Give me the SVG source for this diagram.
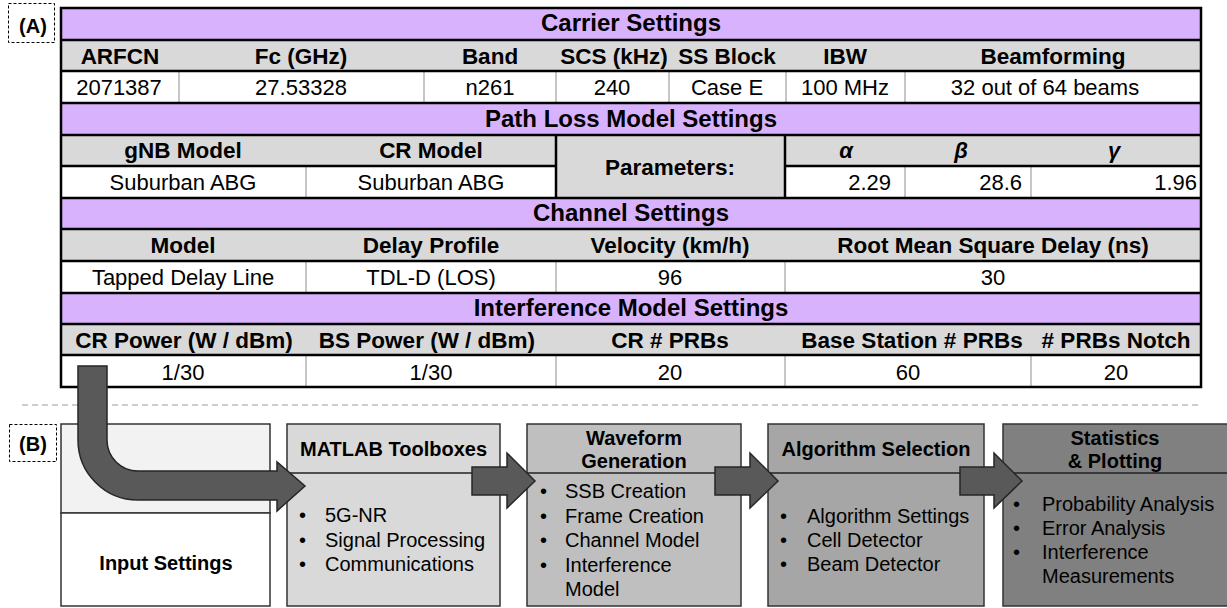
<svg xmlns="http://www.w3.org/2000/svg" width="1227" height="608" viewBox="0 0 1227 608">
  <style>
    text { font-family: "Liberation Sans", Arial, sans-serif; fill: #000; }
    .title { font-size: 24px; font-weight: bold; text-anchor: middle; }
    .hd { font-size: 22.5px; font-weight: bold; text-anchor: middle; }
    .dt { font-size: 22px; text-anchor: middle; }
    .dr { font-size: 22px; text-anchor: end; }
    .gk { font-size: 22px; font-weight: bold; font-style: italic; text-anchor: middle; }
    .purple { fill: #d8b2fd; }
    .gray { fill: #d9d9d9; }
    .white { fill: #ffffff; }
    .rowline { stroke: #000; stroke-width: 2.5; }
    .cellsep { stroke: #c6c6c6; stroke-width: 2; }
    .lbl { font-size: 20px; font-weight: bold; text-anchor: middle; }
    .boxhd { font-size: 20px; font-weight: bold; text-anchor: middle; }
    .body { font-size: 20px; }
    .box { stroke: #333; stroke-width: 1.5; }
    .divider { stroke: #222; stroke-width: 1.5; }
    .arrow { fill: #595959; stroke: #262626; stroke-width: 1.5; stroke-linejoin: miter; }
  </style>

  <!-- Panel labels -->
  <g id="label-a">
    <rect x="8.5" y="3.5" width="46" height="39" fill="none" stroke="#000" stroke-width="1" stroke-dasharray="3 2"/>
    <text class="lbl" x="33" y="33">(A)</text>
  </g>
  <g id="label-b">
    <rect x="9.5" y="424.5" width="47" height="37" fill="none" stroke="#000" stroke-width="1" stroke-dasharray="3 2"/>
    <text class="lbl" x="33" y="451">(B)</text>
  </g>

  <!-- Settings table -->
  <g id="settings-table">
    <!-- row backgrounds -->
    <rect class="purple" x="61" y="8" width="1140" height="32"/>
    <rect class="gray" x="61" y="40" width="1140" height="31"/>
    <rect class="white" x="61" y="71" width="1140" height="32"/>
    <rect class="purple" x="61" y="103" width="1140" height="32"/>
    <rect class="gray" x="61" y="135" width="1140" height="31"/>
    <rect class="white" x="61" y="166" width="1140" height="32"/>
    <rect class="gray" x="556" y="135" width="229" height="63"/>
    <rect class="purple" x="61" y="198" width="1140" height="31"/>
    <rect class="gray" x="61" y="229" width="1140" height="32"/>
    <rect class="white" x="61" y="261" width="1140" height="32"/>
    <rect class="purple" x="61" y="293" width="1140" height="31"/>
    <rect class="gray" x="61" y="324" width="1140" height="31"/>
    <rect class="white" x="61" y="355" width="1140" height="32"/>

    <!-- light cell separators in value rows -->
    <g class="cellsep">
      <line x1="179" y1="71" x2="179" y2="103"/>
      <line x1="424" y1="71" x2="424" y2="103"/>
      <line x1="556" y1="71" x2="556" y2="103"/>
      <line x1="669" y1="71" x2="669" y2="103"/>
      <line x1="786" y1="71" x2="786" y2="103"/>
      <line x1="905" y1="71" x2="905" y2="103"/>
      <line x1="306" y1="166" x2="306" y2="198"/>
      <line x1="905" y1="166" x2="905" y2="198"/>
      <line x1="1031" y1="166" x2="1031" y2="198"/>
      <line x1="306" y1="261" x2="306" y2="293"/>
      <line x1="556" y1="261" x2="556" y2="293"/>
      <line x1="785" y1="261" x2="785" y2="293"/>
      <line x1="306" y1="355" x2="306" y2="387"/>
      <line x1="556" y1="355" x2="556" y2="387"/>
      <line x1="785" y1="355" x2="785" y2="387"/>
      <line x1="1031" y1="355" x2="1031" y2="387"/>
    </g>

    <!-- row borders -->
    <g class="rowline">
      <line x1="61" y1="40" x2="1201" y2="40"/>
      <line x1="61" y1="71" x2="1201" y2="71"/>
      <line x1="61" y1="103" x2="1201" y2="103"/>
      <line x1="61" y1="135" x2="1201" y2="135"/>
      <line x1="61" y1="166" x2="556" y2="166"/>
      <line x1="785" y1="166" x2="1201" y2="166"/>
      <line x1="556" y1="135" x2="556" y2="198"/>
      <line x1="785" y1="135" x2="785" y2="198"/>
      <line x1="61" y1="198" x2="1201" y2="198"/>
      <line x1="61" y1="229" x2="1201" y2="229"/>
      <line x1="61" y1="261" x2="1201" y2="261"/>
      <line x1="61" y1="293" x2="1201" y2="293"/>
      <line x1="61" y1="324" x2="1201" y2="324"/>
      <line x1="61" y1="355" x2="1201" y2="355"/>
    </g>
    <rect x="61" y="8" width="1140" height="379" fill="none" stroke="#000" stroke-width="2.5"/>

    <!-- Carrier settings -->
    <text class="title" x="631" y="31">Carrier Settings</text>
    <text class="hd" x="120" y="64">ARFCN</text>
    <text class="hd" x="301" y="64">Fc (GHz)</text>
    <text class="hd" x="490" y="64">Band</text>
    <text class="hd" x="614" y="64">SCS (kHz)</text>
    <text class="hd" x="727" y="64">SS Block</text>
    <text class="hd" x="845" y="64">IBW</text>
    <text class="hd" x="1053" y="64">Beamforming</text>
    <text class="dt" x="119" y="95">2071387</text>
    <text class="dt" x="301" y="95">27.53328</text>
    <text class="dt" x="490" y="95">n261</text>
    <text class="dt" x="612" y="95">240</text>
    <text class="dt" x="727" y="95">Case E</text>
    <text class="dt" x="845" y="95">100 MHz</text>
    <text class="dt" x="1045" y="95">32 out of 64 beams</text>

    <!-- Path loss model settings -->
    <text class="title" x="631" y="127">Path Loss Model Settings</text>
    <text class="hd" x="183" y="158">gNB Model</text>
    <text class="hd" x="431" y="158">CR Model</text>
    <text class="hd" x="670" y="175">Parameters:</text>
    <text class="gk" x="846" y="158">α</text>
    <text class="gk" x="961" y="158">β</text>
    <text class="gk" x="1114" y="158">γ</text>
    <text class="dt" x="183" y="190">Suburban ABG</text>
    <text class="dt" x="431" y="190">Suburban ABG</text>
    <text class="dr" x="891" y="190">2.29</text>
    <text class="dr" x="1022" y="190">28.6</text>
    <text class="dr" x="1197" y="190">1.96</text>

    <!-- Channel settings -->
    <text class="title" x="631" y="221">Channel Settings</text>
    <text class="hd" x="183" y="253">Model</text>
    <text class="hd" x="431" y="253">Delay Profile</text>
    <text class="hd" x="670" y="253">Velocity (km/h)</text>
    <text class="hd" x="993" y="253">Root Mean Square Delay (ns)</text>
    <text class="dt" x="183" y="285">Tapped Delay Line</text>
    <text class="dt" x="431" y="285">TDL-D (LOS)</text>
    <text class="dt" x="670" y="285">96</text>
    <text class="dt" x="993" y="285">30</text>

    <!-- Interference model settings -->
    <text class="title" x="631" y="316">Interference Model Settings</text>
    <text class="hd" x="184" y="348">CR Power (W / dBm)</text>
    <text class="hd" x="427" y="348">BS Power (W / dBm)</text>
    <text class="hd" x="670" y="348">CR # PRBs</text>
    <text class="hd" x="912" y="348">Base Station # PRBs</text>
    <text class="hd" x="1116" y="348"># PRBs Notch</text>
    <text class="dt" x="183" y="380">1/30</text>
    <text class="dt" x="431" y="380">1/30</text>
    <text class="dt" x="670" y="380">20</text>
    <text class="dt" x="908" y="380">60</text>
    <text class="dt" x="1116" y="380">20</text>
  </g>

  <!-- Section divider -->
  <line id="section-divider" x1="22" y1="405" x2="1202" y2="405" stroke="#bdbdbd" stroke-width="1.5" stroke-dasharray="6 4"/>

  <!-- Pipeline stages -->
  <g id="input-settings">
    <rect x="61" y="424" width="209" height="89" fill="#f2f2f2" class="box"/>
    <rect x="61" y="513" width="209" height="93" fill="#ffffff" class="box"/>
    <text class="boxhd" x="166" y="570">Input Settings</text>
  </g>

  <g id="matlab-toolboxes">
    <rect x="287" y="424" width="213" height="182" fill="#d9d9d9" class="box"/>
    <line class="divider" x1="287" y1="473" x2="500" y2="473"/>
    <text class="boxhd" x="393.5" y="456">MATLAB Toolboxes</text>
    <text class="body" x="299" y="522">•</text><text class="body" x="325" y="522">5G-NR</text>
    <text class="body" x="299" y="547">•</text><text class="body" x="325" y="547">Signal Processing</text>
    <text class="body" x="299" y="571">•</text><text class="body" x="325" y="571">Communications</text>
  </g>

  <g id="waveform-generation">
    <rect x="527" y="424" width="214" height="182" fill="#bfbfbf" class="box"/>
    <line class="divider" x1="527" y1="473" x2="741" y2="473"/>
    <text class="boxhd" x="634" y="445">Waveform</text>
    <text class="boxhd" x="634" y="468">Generation</text>
    <text class="body" x="540" y="498">•</text><text class="body" x="565" y="498">SSB Creation</text>
    <text class="body" x="540" y="523">•</text><text class="body" x="565" y="523">Frame Creation</text>
    <text class="body" x="540" y="547">•</text><text class="body" x="565" y="547">Channel Model</text>
    <text class="body" x="540" y="572">•</text><text class="body" x="565" y="572">Interference</text>
    <text class="body" x="565" y="596">Model</text>
  </g>

  <g id="algorithm-selection">
    <rect x="768" y="424" width="216" height="182" fill="#a6a6a6" class="box"/>
    <line class="divider" x1="768" y1="473" x2="984" y2="473"/>
    <text class="boxhd" x="876" y="456">Algorithm Selection</text>
    <text class="body" x="780" y="523">•</text><text class="body" x="807" y="523">Algorithm Settings</text>
    <text class="body" x="780" y="547">•</text><text class="body" x="807" y="547">Cell Detector</text>
    <text class="body" x="780" y="571">•</text><text class="body" x="807" y="571">Beam Detector</text>
  </g>

  <g id="statistics-plotting">
    <rect x="1003" y="424" width="226" height="182" fill="#808080" class="box"/>
    <line class="divider" x1="1003" y1="473" x2="1227" y2="473"/>
    <text class="boxhd" x="1115" y="445">Statistics</text>
    <text class="boxhd" x="1115" y="468">&amp; Plotting</text>
    <text class="body" x="1013" y="511">•</text><text class="body" x="1042" y="511">Probability Analysis</text>
    <text class="body" x="1013" y="535">•</text><text class="body" x="1042" y="535">Error Analysis</text>
    <text class="body" x="1013" y="559">•</text><text class="body" x="1042" y="559">Interference</text>
    <text class="body" x="1042" y="583">Measurements</text>
  </g>

  <!-- Block arrows between stages -->
  <g id="connectors">
    <path class="arrow" d="M78 366 H107 V440 A31 31 0 0 0 138 471 H277 V462 L305 486 L277 511 V500 H138 A60 60 0 0 1 78 440 Z"/>
    <path class="arrow" d="M472 467 H507 V453 L535 481 L507 508 V495 H472 Z"/>
    <path class="arrow" d="M715 467 H750 V453 L778 481 L750 508 V495 H715 Z"/>
    <path class="arrow" d="M960 467 H994 V453 L1022 481 L994 508 V495 H960 Z"/>
  </g>
</svg>
